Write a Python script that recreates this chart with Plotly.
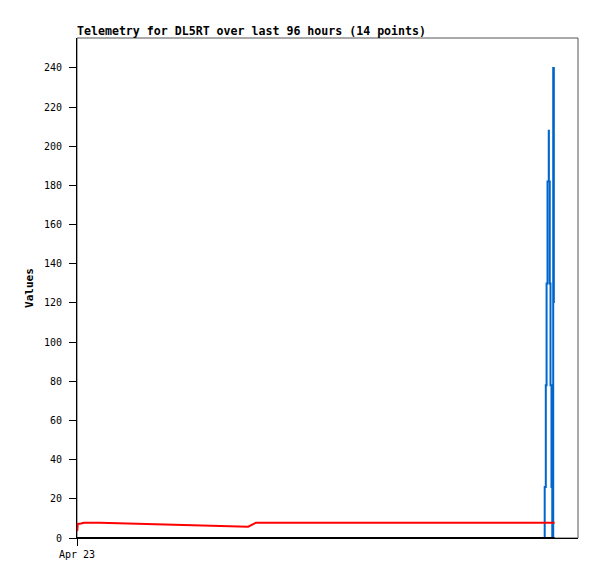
import datetime as dt
import plotly.graph_objects as go

# ---- data (hours after Apr 23 00:00, values) ----
start = dt.datetime(2024, 4, 23, 0, 0)
axis_hours = 96

red_hours = [0.04, 0.15, 0.77, 1.34, 4.41, 31.2, 32.8, 34.3, 91.53]
red_values = [3.5, 7.2, 7.4, 7.8, 7.8, 5.8, 5.8, 7.8, 7.8]

blue_hours = [0.0, 89.62, 89.83, 89.98, 90.16, 90.40, 90.42, 90.59, 90.73,
              90.92, 91.07, 91.25, 91.37]
blue_values = [0, 26, 78, 130, 182, 208, 182, 130, 78, 26, 0, 240, 120]

black_hours = [0.0, 91.53]
black_values = [0, 0]

y_ticks = list(range(0, 241, 20))
x_tick_label = "Apr 23"
title_text = "Telemetry for DL5RT over last 96 hours (14 points)"
y_title = "Values"


def to_dt(hours):
    return [start + dt.timedelta(hours=h) for h in hours]


mono = "DejaVu Sans Mono"
fig = go.Figure()
fig.add_trace(go.Scatter(x=to_dt(blue_hours), y=blue_values, mode="lines",
                         line=dict(color="#0066CC", width=2, shape="hv"), showlegend=False))
fig.add_trace(go.Scatter(x=to_dt(red_hours), y=red_values, mode="lines",
                         line=dict(color="#FF0000", width=2), showlegend=False))
fig.add_trace(go.Scatter(x=to_dt(black_hours), y=black_values, mode="lines",
                         line=dict(color="#000000", width=2), showlegend=False))

fig.update_layout(
    width=581, height=563,
    margin=dict(l=69, r=11, t=30, b=33),
    paper_bgcolor="white", plot_bgcolor="white",
    font=dict(family=mono, size=10, color="black"),
    xaxis=dict(
        range=[start, start + dt.timedelta(hours=axis_hours)],
        tickvals=[start], ticktext=[x_tick_label],
        ticks="outside", ticklen=7, tickcolor="black",
        showgrid=False, zeroline=False,
        showline=True, linecolor="black", linewidth=1,
        tickfont=dict(family=mono, size=10),
    ),
    yaxis=dict(
        range=[0, 255.3],
        tickvals=y_ticks,
        ticks="outside", ticklen=7, tickcolor="black",
        showgrid=False, zeroline=False,
        showline=True, linecolor="black", linewidth=1,
        tickfont=dict(family=mono, size=10),
        ticklabelstandoff=5,
        title=dict(text="<b>" + y_title + "</b>", font=dict(family=mono, size=11), standoff=8),
    ),
    shapes=[dict(type="rect", xref="paper", yref="paper", x0=0, x1=1, y0=0, y1=1,
                 line=dict(color="#555555", width=1), layer="below")],
    annotations=[dict(text="<b>" + title_text + "</b>", xref="paper", yref="paper",
                      x=0, y=1, xanchor="left", yanchor="bottom", yshift=-2, xshift=-2,
                      showarrow=False, font=dict(family=mono, size=11.6, color="black"))],
)

fig.write_html("out.html")
